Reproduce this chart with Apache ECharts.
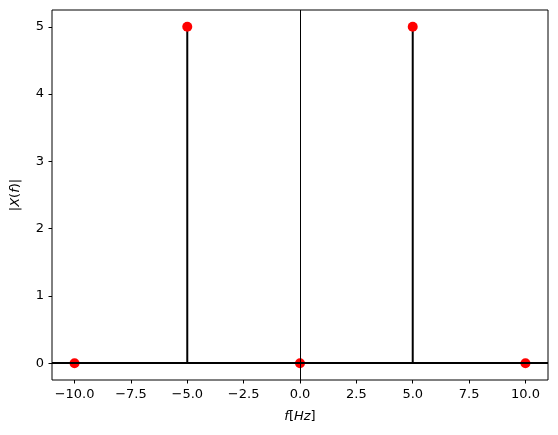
<!DOCTYPE html>
<html><head><meta charset="utf-8">
<script src="https://cdn.jsdelivr.net/npm/echarts@6/dist/echarts.min.js"></script>
<style>html,body{margin:0;padding:0;background:#fff}#c{width:558px;height:435px}</style>
</head><body><div id="c"></div>
<script>
const freqs = [-10, -5, 0, 5, 10];
const magnitudes = [0, 5, 0, 5, 0];
const xTicks = [-10, -7.5, -5, -2.5, 0, 2.5, 5, 7.5, 10];
const yTicks = [0, 1, 2, 3, 4, 5];
const xRange = [-11, 11];
const yRange = [-0.25, 5.25];

const points = freqs.map((f, i) => [f, magnitudes[i]]);
const fmt = (v, d) => v.toFixed(d).replace('-', '\u2212');
const font = 'DejaVu Sans';
const fs = 13;

const chart = echarts.init(document.getElementById('c'), null, {renderer: 'canvas'});
chart.setOption({
  animation: false,
  backgroundColor: '#fff',
  grid: {left: 52, right: 10, top: 10, bottom: 55, show: true, borderColor: '#000', borderWidth: 1, backgroundColor: 'transparent'},
  xAxis: {
    type: 'value', min: xRange[0], max: xRange[1],
    splitLine: {show: false},
    axisLine: {show: false, onZero: false},
    axisTick: {show: true, inside: false, length: 3.5, lineStyle: {color: '#000', width: 1}, customValues: xTicks},
    axisLabel: {color: '#000', fontFamily: font, fontSize: fs, margin: 8, customValues: xTicks, formatter: v => fmt(v, 1)},
    name: '{i|f}{n|[}{i|Hz}{n|]}', nameLocation: 'middle', nameGap: 30,
    nameTextStyle: {rich: {i: {fontFamily: font, fontStyle: 'italic', fontSize: fs, color: '#000'}, n: {fontFamily: font, fontSize: fs, color: '#000'}}}
  },
  yAxis: {
    type: 'value', min: yRange[0], max: yRange[1],
    splitLine: {show: false},
    axisLine: {show: false, onZero: false},
    axisTick: {show: true, inside: false, length: 3.5, lineStyle: {color: '#000', width: 1}, customValues: yTicks},
    axisLabel: {color: '#000', fontFamily: font, fontSize: fs, margin: 8, customValues: yTicks, formatter: v => fmt(v, 0)},
    name: '{n||}{i|X}{n|(}{i|f}{n|)|}', nameLocation: 'middle', nameGap: 30, nameRotate: 90,
    nameTextStyle: {rich: {i: {fontFamily: font, fontStyle: 'italic', fontSize: fs, color: '#000'}, n: {fontFamily: font, fontSize: fs, color: '#000'}}}
  },
  series: [
    {
      type: 'line', data: [], z: 1, silent: true,
      markLine: {
        silent: true, symbol: 'none', label: {show: false}, animation: false,
        data: [
          {yAxis: 0, lineStyle: {color: '#000', width: 2, type: 'solid'}},
          {xAxis: 0, lineStyle: {color: '#000', width: 1, type: 'solid'}}
        ]
      }
    },
    {
      type: 'custom', z: 2, silent: true, data: points,
      renderItem: (params, api) => {
        const p0 = api.coord([api.value(0), 0]);
        const p1 = api.coord([api.value(0), api.value(1)]);
        return {type: 'line', shape: {x1: p0[0], y1: p0[1], x2: p1[0], y2: p1[1]}, style: {stroke: '#000', lineWidth: 2}};
      }
    },
    {
      type: 'scatter', z: 3, data: points, symbol: 'circle', symbolSize: 10,
      itemStyle: {color: '#ff0000', opacity: 1}
    }
  ]
});
</script></body></html>
